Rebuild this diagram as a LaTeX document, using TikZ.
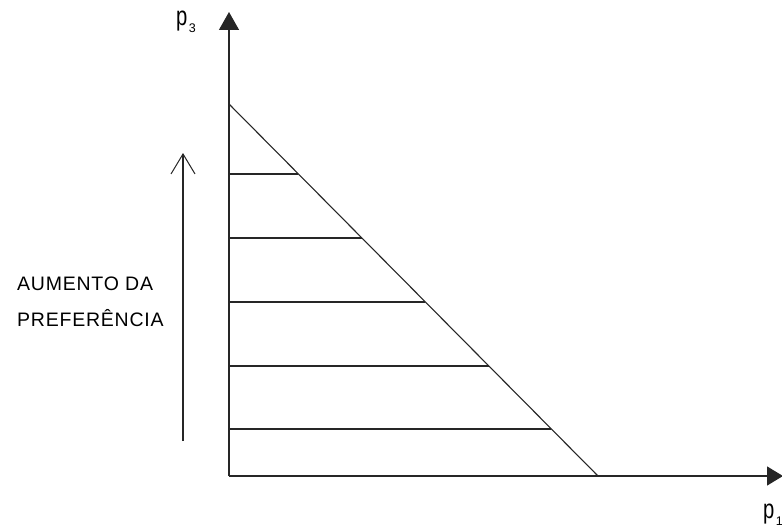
\documentclass[tikz,border=0pt]{standalone}
\usepackage{fontspec}
\setmainfont{Liberation Sans}
\usetikzlibrary{arrows.meta,calc}
\newcommand{\axp}[1]{\scalebox{0.75}[1]{p}\hspace{1.5pt}\raisebox{-7pt}{\fontsize{12.5}{13}\selectfont #1}}
\begin{document}
\begin{tikzpicture}[x=1pt,y=-1pt,
  axis/.style={line width=1.4pt,draw=black!85},
  level/.style={line width=1.3pt,draw=black!85},
  diag/.style={line width=1.1pt,draw=black!85},
  lbl/.style={inner sep=0pt,font=\fontsize{19.5}{20}\selectfont\addfontfeature{LetterSpace=4}},
  axlbl/.style={inner sep=0pt,font=\fontsize{27}{28}\selectfont}]
\useasboundingbox (0,0) rectangle (782,527);
\coordinate (O) at (229,476);
\coordinate (Y) at (229,12);
\coordinate (X) at (783,476);
\coordinate (T) at (229,104);
\coordinate (B) at (598,476);
\draw[axis,-{Triangle[length=18pt,width=20pt]}] (O) -- (Y);
\draw[axis,-{Triangle[length=16pt,width=19pt]}] (O) -- (X);
\draw[diag] (T) -- (B);
\foreach \f/\n in {0.1882/a,0.3602/b,0.5323/c,0.7043/d,0.8737/e}{
  \coordinate (r\n) at ($(T)!\f!(B)$);
  \coordinate (l\n) at (O|-r\n);
  \draw[level] (l\n) -- (r\n);
}
\coordinate (as) at (183,441);
\coordinate (at) at (183,153);
\draw[line width=1.3pt,draw=black!85,-{Straight Barb[length=20pt,width=24pt,line width=1pt]}] (as) -- (at);
\node[lbl,anchor=base west] (t1) at (17,290) {AUMENTO DA};
\node[lbl,anchor=base west] (t2) at (17,326) {PREFERÊNCIA};
\node[axlbl,anchor=base west] (p3) at (176,26) {\axp{3}};
\node[axlbl,anchor=base west] (p1) at (763,518) {\axp{1}};
\end{tikzpicture}
\end{document}
